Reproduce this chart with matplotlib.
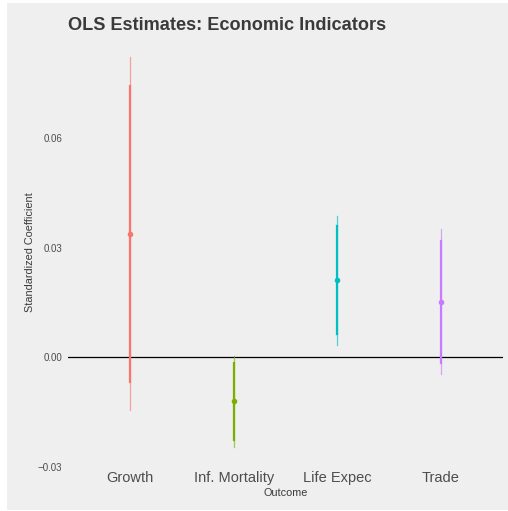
import numpy as np
import matplotlib.pyplot as plt
from matplotlib.patches import Rectangle

plt.rcParams['font.family'] = ['Liberation Sans', 'DejaVu Sans']

outcomes = ['Growth', 'Inf. Mortality', 'Life Expec', 'Trade']
colors   = ['#F8766D', '#7CAE00', '#00BFC4', '#C77CFF']
estimate = [0.0336, -0.0120, 0.0211, 0.0150]
ci90_lo  = [-0.0068, -0.0227, 0.0063, -0.0016]
ci90_hi  = [0.0741, -0.0016, 0.0358, 0.0317]
ci95_lo  = [-0.0145, -0.0246, 0.0033, -0.0047]
ci95_hi  = [0.0820, 0.0003, 0.0386, 0.0350]

W, H = 508., 511.
fig = plt.figure(figsize=(W/100, H/100), dpi=100, facecolor='white')
bg = '#EFEFEF'
fig.patches.append(Rectangle((7/W, 1/H), 1 - 7/W, 1 - 4/H, transform=fig.transFigure,
                             facecolor=bg, edgecolor='none', zorder=-10))

ax = fig.add_axes([68/W, 1 - 467/H, (503 - 68)/W, (467 - 38)/H])
ax.set_facecolor(bg)
for s in ax.spines.values():
    s.set_visible(False)

x = np.arange(len(outcomes))
ax.axhline(0, color='black', lw=0.9, zorder=1)
for i in range(len(outcomes)):
    ax.plot([x[i], x[i]], [ci95_lo[i], ci95_hi[i]], color=colors[i], lw=0.9, alpha=0.65, zorder=2)
    ax.plot([x[i], x[i]], [ci90_lo[i], ci90_hi[i]], color=colors[i], lw=1.6, zorder=3)
    ax.plot(x[i], estimate[i], 'o', color=colors[i], ms=3.0, zorder=4)

ax.set_xlim(-0.6, len(outcomes) - 0.4)
ax.set_ylim(-0.0299, 0.0873)
ax.set_xticks(x)
ax.set_xticklabels(outcomes, fontsize=10.5, color='#4D4D4D')
ax.set_yticks([-0.03, 0.0, 0.03, 0.06])
ax.set_yticklabels(['\u22120.03', '0.00', '0.03', '0.06'], fontsize=7, color='#4D4D4D')
ax.tick_params(length=0, axis='y', pad=4)
ax.tick_params(length=0, axis='x', pad=3)
ax.set_xlabel('Outcome', fontsize=7.8, color='#3A3A3A', labelpad=2)
ax.set_ylabel('Standardized Coefficient', fontsize=7.8, color='#3A3A3A', labelpad=2)

fig.text(68/W, 1 - 25/H, 'OLS Estimates: Economic Indicators', fontsize=13.1, fontweight='bold',
         color='#3A3A3A', va='center', ha='left')

fig.savefig('out.png', dpi=100)
